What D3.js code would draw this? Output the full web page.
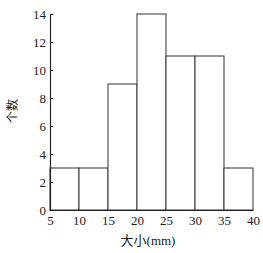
<!DOCTYPE html>
<html>
<head>
<meta charset="utf-8">
<script src="https://cdn.jsdelivr.net/npm/d3@7"></script>
<style>
  body { margin: 0; background: #fff; }
</style>
</head>
<body>
<div id="chart"></div>
<script>
const binEdges = [5, 10, 15, 20, 25, 30, 35, 40];
const counts = [3, 3, 9, 14, 11, 11, 3];
const yTicks = [0, 2, 4, 6, 8, 10, 12, 14];
const xLabel = "大小(mm)";
const yLabel = "个数";

const font = "'Liberation Serif', 'Noto Sans CJK SC', serif";
const width = 263, height = 253;
const svg = d3.select("#chart").append("svg")
    .attr("width", width)
    .attr("height", height);

const x = d3.scaleLinear().domain([5, 40]).range([50, 253]);
const y = d3.scaleLinear().domain([0, 14]).range([210, 14]);

const bins = counts.map((c, i) => ({x0: binEdges[i], x1: binEdges[i + 1], n: c}));

svg.selectAll("rect.bar")
    .data(bins)
    .enter()
    .append("rect")
    .attr("class", "bar")
    .attr("x", d => x(d.x0))
    .attr("y", d => y(d.n))
    .attr("width", d => x(d.x1) - x(d.x0))
    .attr("height", d => y(0) - y(d.n))
    .attr("fill", "#fff")
    .attr("stroke", "#333")
    .attr("stroke-width", 1);

// y axis, ticks pointing inward
const yAxis = svg.append("g")
    .attr("transform", "translate(50,0)")
    .call(d3.axisRight(y).tickValues(yTicks).tickSize(3).tickSizeOuter(3));
yAxis.select(".domain").attr("stroke", "#222").attr("stroke-width", 1.2);
yAxis.selectAll(".tick line").attr("stroke", "#222");
yAxis.selectAll(".tick text")
    .attr("x", -4)
    .attr("text-anchor", "end")
    .attr("fill", "#222")
    .style("font-family", font)
    .style("font-size", "13px");

// x axis
const xAxis = svg.append("g")
    .attr("transform", "translate(0,210)")
    .call(d3.axisBottom(x).tickValues(binEdges).tickSize(0).tickSizeOuter(0).tickPadding(6));
xAxis.select(".domain").attr("stroke", "#222").attr("stroke-width", 1.2);
xAxis.selectAll(".tick text")
    .attr("fill", "#222")
    .style("font-family", font)
    .style("font-size", "13px");

svg.append("text")
    .attr("x", 148)
    .attr("y", 245)
    .attr("text-anchor", "middle")
    .attr("fill", "#222")
    .style("font-family", font)
    .style("font-size", "13px")
    .text(xLabel);

svg.append("text")
    .attr("transform", "translate(17,111) rotate(-90)")
    .attr("text-anchor", "middle")
    .attr("fill", "#222")
    .style("font-family", font)
    .style("font-size", "12px")
    .text(yLabel);
</script>
</body>
</html>
